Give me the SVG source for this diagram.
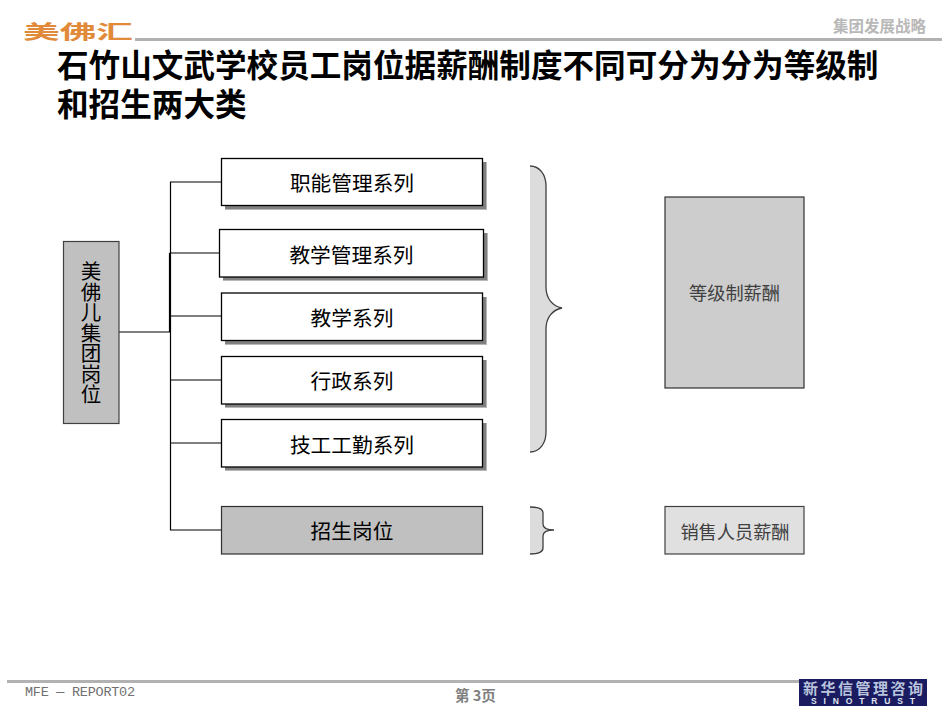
<svg xmlns="http://www.w3.org/2000/svg" width="950" height="713" viewBox="0 0 950 713">
<style>
text{font-family:"Noto Sans CJK SC","Liberation Sans",sans-serif}
.box{fill:#fff;stroke:#000;stroke-width:1.3}
.shadow{fill:#808080}
.shadow2{fill:#b8b8b8}
.lbl{font-size:20.700px;fill:#000;text-anchor:middle}
.gl{font-size:18.200px;fill:#404040;text-anchor:middle}
.wire{stroke:#000;stroke-width:1.2;fill:none}
.brace{fill:#dcdcdc;stroke:none}
.bl{fill:none;stroke:#404040;stroke-width:1.3}
.rule{fill:#b2b2b2}
</style>
<rect width="950" height="713" fill="#fff"/>
<g id="header">
<rect class="rule" x="135" y="38" width="807" height="3"/>
<text x="23" y="38.500" font-size="19" font-weight="700" fill="#e08a3a" textLength="110" lengthAdjust="spacingAndGlyphs">美佛汇</text>
<text x="833" y="32" font-size="15.500" font-weight="700" fill="#b8b8b8">集团发展战略</text>
</g>
<g id="title" font-weight="700" font-size="31.600" fill="#000">
<text x="57" y="77">石竹山文武学校员工岗位据薪酬制度不同可分为分为等级制</text>
<text x="57" y="116">和招生两大类</text>
</g>
<g id="connectors">
<path class="wire" d="M170.500 182V530M119 332H170M170 182H221M169.500 253V332M169.500 253H219M170 316H221M170 380H221M170 443H221M170 530H221"/>
</g>
<g id="root"><rect x="63.500" y="241.500" width="55.500" height="182" fill="#c0c0c0" stroke="#404040" stroke-width="1.200"/>
<text x="91" y="261" font-size="20.500" fill="#000" writing-mode="vertical-rl">美佛儿集团岗位</text></g>
<g id="n1"><rect class="shadow2" x="225" y="162" width="262" height="48"/><rect class="shadow" x="225" y="162" width="261" height="47"/><rect class="box" x="221.500" y="158.500" width="261" height="47"/><text class="lbl" x="352" y="191">职能管理系列</text></g>
<g id="n2"><rect class="shadow2" x="223" y="233" width="265" height="48"/><rect class="shadow" x="223" y="233" width="264" height="47"/><rect class="box" x="219.500" y="229.500" width="264" height="47.500"/><text class="lbl" x="351.500" y="262.500">教学管理系列</text></g>
<g id="n3"><rect class="shadow2" x="225" y="297" width="262" height="48"/><rect class="shadow" x="225" y="297" width="261" height="47"/><rect class="box" x="221.500" y="293" width="261" height="47.500"/><text class="lbl" x="352" y="326">教学系列</text></g>
<g id="n4"><rect class="shadow2" x="225" y="360" width="262" height="48"/><rect class="shadow" x="225" y="360" width="261" height="47"/><rect class="box" x="221.500" y="356.500" width="261" height="47.500"/><text class="lbl" x="352" y="389">行政系列</text></g>
<g id="n5"><rect class="shadow2" x="225" y="423" width="262" height="48"/><rect class="shadow" x="225" y="423" width="261" height="47"/><rect class="box" x="221.500" y="419.500" width="261" height="47.500"/><text class="lbl" x="352" y="452.500">技工工勤系列</text></g>
<g id="n6"><rect x="221.500" y="506.500" width="261" height="47.500" fill="#c0c0c0" stroke="#303030" stroke-width="1.200"/><text class="lbl" x="352" y="539">招生岗位</text></g>
<g id="brace1"><path class="brace" d="M530 166C540 166 546 175 546 186V287C546 298 552 306 562 308C552 310 546 318 546 329V432C546 443 540 452 530 452Z"/><path class="bl" d="M530 166C540 166 546 175 546 186V287C546 298 552 306 562 308C552 310 546 318 546 329V432C546 443 540 452 530 452"/></g>
<g id="brace2"><path class="brace" d="M530 507C538 507 543 509 543 513V524C543 528 547 530 554 530C547 530 543 532 543 536V548C543 552 538 554 530 554Z"/><path class="bl" d="M530 507C538 507 543 509 543 513V524C543 528 547 530 554 530C547 530 543 532 543 536V548C543 552 538 554 530 554"/></g>
<g id="pay1"><rect x="665" y="197" width="139" height="191" fill="#cdcdcd" stroke="#303030" stroke-width="1.200"/><text class="gl" x="734.500" y="300">等级制薪酬</text></g>
<g id="pay2"><rect x="665" y="506.500" width="139" height="47.500" fill="#e0e0e0" stroke="#404040" stroke-width="1.200"/><text class="gl" x="735" y="538.500">销售人员薪酬</text></g>
<g id="footer">
<rect class="rule" x="7" y="680" width="793" height="3"/>
<text x="25" y="696" font-size="13.500" fill="#707070" style="font-family:'Liberation Mono',monospace" textLength="110">MFE — REPORT02</text>
<text x="455" y="701" font-size="14.500" font-weight="700" fill="#808080">第 3页</text>
<rect x="799" y="679" width="128" height="27" fill="#1b1b62"/>
<text x="863" y="694" font-size="15" font-weight="700" fill="#b8c4dc" text-anchor="middle" textLength="120" lengthAdjust="spacing">新华信管理咨询</text>
<text x="863" y="704" font-size="8.500" font-weight="700" fill="#dfe4ee" text-anchor="middle" textLength="104" lengthAdjust="spacing" style="font-family:'Liberation Sans',sans-serif">SINOTRUST</text>
</g>
</svg>
